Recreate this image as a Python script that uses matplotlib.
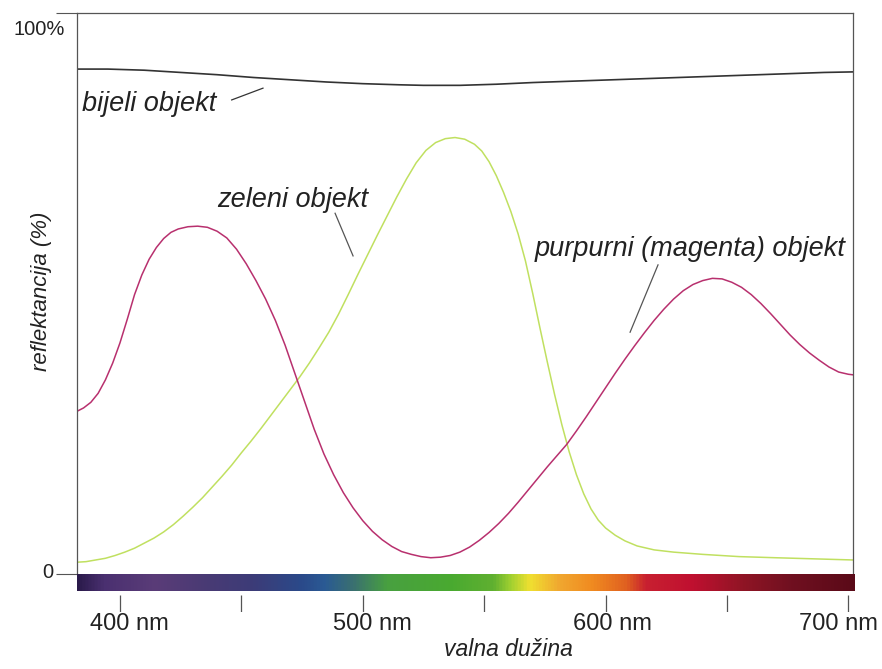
import matplotlib.pyplot as plt
import numpy as np
from matplotlib.colors import LinearSegmentedColormap

plt.rcParams['font.family'] = ['Liberation Sans', 'DejaVu Sans']

# valna duzina (nm) / reflektancija (%) ocitano sa slike
magenta_nm = [382.3, 385, 388, 391, 394, 397, 400, 403, 406, 409, 412, 415, 418, 421, 424, 428, 432,
              436, 440, 444, 448, 452, 456, 460, 464, 468, 472, 476, 480, 484, 488, 492, 496, 500,
              504, 508, 512, 516, 520, 524, 528, 532, 536, 540, 544, 548, 552, 556, 560, 564, 568,
              572, 576, 580, 584, 588, 592, 596, 600, 604, 608, 612, 616, 620, 624, 628, 632, 636,
              640, 644, 648, 652, 656, 660, 664, 668, 672, 676, 680, 684, 688, 692, 696, 700, 702]
magenta_val = [29.0, 29.6, 30.6, 32.2, 34.6, 37.6, 41.2, 45.4, 49.8, 53.3, 56.1, 58.2, 59.8, 60.9, 61.5,
               61.9, 62.0, 61.8, 61.1, 59.9, 57.9, 55.3, 52.3, 49.0, 45.2, 40.8, 35.8, 30.8, 25.8, 21.4,
               17.7, 14.5, 11.8, 9.5, 7.6, 6.1, 4.9, 4.0, 3.5, 3.1, 2.9, 3.0, 3.3, 3.9, 4.8, 6.0, 7.4,
               9.0, 10.8, 12.8, 14.9, 17.0, 19.1, 21.1, 23.1, 25.5, 28.0, 30.6, 33.2, 35.8, 38.3, 40.7,
               43.0, 45.2, 47.2, 49.0, 50.5, 51.6, 52.3, 52.7, 52.6, 52.0, 51.1, 49.8, 48.2, 46.4, 44.5,
               42.6, 40.9, 39.4, 38.1, 36.9, 36.0, 35.6, 35.5]

green_nm = [382.3, 386, 390, 394, 398, 402, 406, 410, 414, 418, 422, 426, 430, 434, 438, 442, 446, 450,
            454, 458, 462, 466, 470, 474, 478, 482, 486, 490, 494, 498, 502, 506, 510, 514, 518, 522,
            526, 530, 534, 538, 542, 546, 549, 552, 555, 558, 561, 564, 567, 570, 573, 576, 579, 582,
            585, 588, 591, 594, 597, 600, 604, 608, 613, 620, 628, 640, 655, 670, 686, 702]
green_val = [2.1, 2.2, 2.5, 2.8, 3.3, 3.9, 4.6, 5.5, 6.4, 7.5, 8.8, 10.3, 11.9, 13.6, 15.5, 17.4, 19.4,
             21.6, 23.7, 25.9, 28.2, 30.5, 32.8, 35.1, 37.6, 40.3, 43.1, 46.3, 49.8, 53.4, 56.9, 60.4,
             63.8, 67.2, 70.4, 73.3, 75.5, 76.9, 77.6, 77.8, 77.5, 76.6, 75.4, 73.5, 71.0, 68.0, 64.6,
             60.6, 55.8, 50.0, 43.8, 37.8, 32.0, 26.6, 21.8, 17.7, 14.3, 11.6, 9.6, 8.2, 6.9, 5.9, 5.0,
             4.3, 3.9, 3.5, 3.1, 2.9, 2.7, 2.5]

white_nm = [382.3, 395, 410, 425, 440, 455, 470, 485, 500, 515, 525, 540, 555, 570, 590, 610, 630, 650,
            670, 690, 702]
white_val = [90.0, 90.0, 89.8, 89.4, 89.0, 88.5, 88.1, 87.7, 87.4, 87.2, 87.1, 87.1, 87.3, 87.6, 87.9,
             88.2, 88.5, 88.8, 89.1, 89.4, 89.5]

# boje spektra
spectrum_nm = [382, 393, 414, 434, 455, 475, 484, 496, 510, 537, 554, 561, 569, 581, 595, 609, 617,
               636, 657, 677, 703]
spectrum_colors = ['#2a1a4a', '#4a3070', '#5a3c78', '#4a3a74', '#3c3c78', '#2a4a8a', '#2a5a94',
                   '#3a7070', '#48a040', '#4aaa30', '#60b030', '#a0d030', '#f0e030', '#f0a830',
                   '#f08a20', '#e06020', '#c82030', '#c01030', '#901525', '#701020', '#5a0a18']

tick_nm = [400, 450, 500, 550, 600, 650, 700]
label_nm = [400, 500, 600, 700]
label_shift = [4, 4, 3, -4]

xmin, xmax = 382.3, 701.9

fig = plt.figure(figsize=(8.82, 6.69), dpi=100)
ax = fig.add_axes([0.0873, 0.1420, 0.8798, 0.8386])
ax.plot(white_nm, white_val, color='#333333', lw=1.2)
ax.plot(green_nm, green_val, color='#c0e060', lw=1.1)
ax.plot(magenta_nm, magenta_val, color='#b8306e', lw=1.1)
ax.set_xlim(xmin, xmax)
ax.set_ylim(0, 100)
ax.set_xticks([])
ax.set_yticks([0, 100])
ax.set_yticklabels([])
ax.tick_params(axis='y', length=15, width=0.8, color='#555555')
for s in ['left', 'right', 'top']:
    ax.spines[s].set_color('#555555')
    ax.spines[s].set_linewidth(0.9)
ax.spines['bottom'].set_visible(False)

ax.text(-0.031, 0.003, '0', transform=ax.transAxes, ha='right', va='center', fontsize=14.5, color='#222222')
ax.text(-0.0155, 0.97, '100%', transform=ax.transAxes, ha='right', va='center', fontsize=14.5, color='#222222')

# natpisi
ax.text(384.3, 82.6, 'bijeli objekt', fontsize=19.5, style='italic', color='#222222', va='baseline')
ax.plot([446.0, 458.9], [84.5, 86.6], color='#333333', lw=0.9)
ax.text(440.0, 65.4, 'zeleni objekt', fontsize=19.5, style='italic', color='#222222', va='baseline')
ax.plot([488.6, 496.0], [64.3, 56.7], color='#555555', lw=0.9)
ax.text(570.9, 56.6, 'purpurni (magenta) objekt', fontsize=19.5, style='italic', color='#222222',
        va='baseline')
ax.plot([621.6, 610.1], [55.1, 43.1], color='#555555', lw=0.9)

# spektar
cax = fig.add_axes([0.0873, 0.1166, 0.8810, 0.0254])
pos = [(n - spectrum_nm[0]) / (spectrum_nm[-1] - spectrum_nm[0]) for n in spectrum_nm]
cmap = LinearSegmentedColormap.from_list('spektar', list(zip(pos, spectrum_colors)))
grad = np.linspace(0, 1, 512).reshape(1, -1)
cax.imshow(grad, aspect='auto', cmap=cmap, extent=[spectrum_nm[0], spectrum_nm[-1], 0, 1])
cax.set_xlim(xmin, 702.8)
cax.axis('off')

tax = fig.add_axes([0.0873, 0.0852, 0.8798, 0.0254])
tax.set_xlim(xmin, xmax)
tax.set_ylim(0, 1)
tax.axis('off')
tax.vlines(tick_nm, 0, 1, color='#555555', lw=0.9)
for n, d in zip(label_nm, label_shift):
    tax.text(n + d, -0.7, f'{n} nm', ha='center', va='center', fontsize=17, color='#222222')

fig.text(508 / 882, 1 - 650 / 669, 'valna dužina', ha='center', va='center', fontsize=16.5,
         style='italic', color='#222222')
fig.text(42 / 882, 1 - 291 / 669, 'reflektancija (%)', ha='center', va='center', fontsize=16,
         style='italic', rotation=90, color='#222222')

fig.savefig('out.png', dpi=100)
